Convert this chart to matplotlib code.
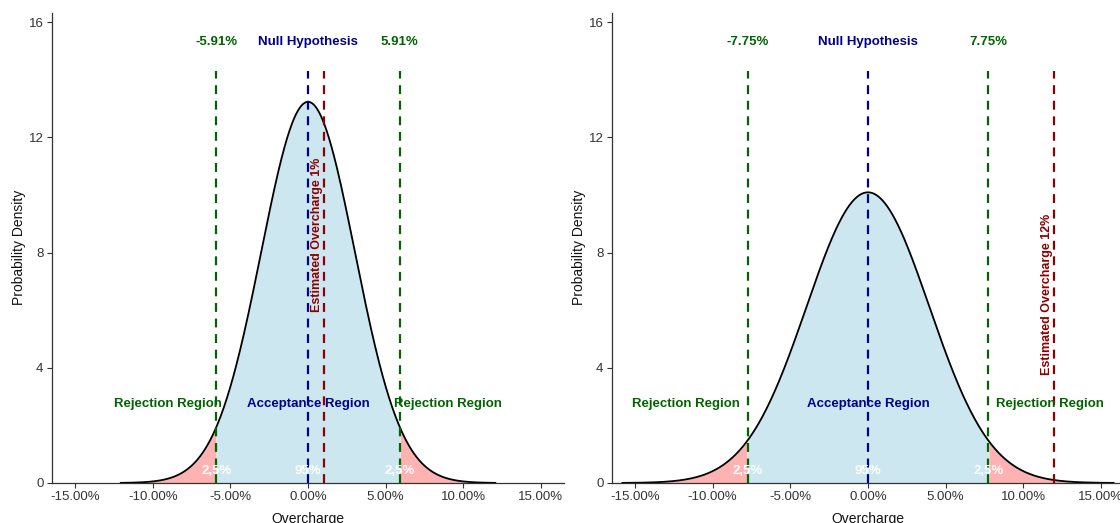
import numpy as np
import matplotlib.pyplot as plt
from matplotlib.ticker import FuncFormatter

plt.rcParams['font.family'] = ['Liberation Sans', 'DejaVu Sans']

# one panel per test: critical value (95% two-sided) and estimated overcharge
null_mean = 0.0
crit_values = [0.0591, 0.0775]
estimates = [0.01, 0.12]
crit_labels = [["-5.91%", "5.91%"], ["-7.75%", "7.75%"]]
est_labels = ["Estimated Overcharge 1%", "Estimated Overcharge 12%"]
reject_label_x = [0.090, 0.117]
tail_share = "2,5%"
mid_share = "95%"

x_ticks = [-0.15, -0.10, -0.05, 0.0, 0.05, 0.10, 0.15]
y_ticks = [0, 4, 8, 12, 16]

GREEN = "#006400"
BLUE = "#00008B"
RED = "#8B0000"


def normal_pdf(x, mu, sd):
    return np.exp(-0.5 * ((x - mu) / sd) ** 2) / (sd * np.sqrt(2 * np.pi))


fig = plt.figure(figsize=(11.2, 5.23), dpi=100)
positions = [[0.0463, 0.0765, 0.4575, 0.8995], [0.5462, 0.0765, 0.4575, 0.8995]]

for i, crit in enumerate(crit_values):
    ax = fig.add_axes(positions[i])
    sd = crit / 1.96
    x = np.linspace(null_mean - 4 * sd, null_mean + 4 * sd, 600)
    y = normal_pdf(x, null_mean, sd)
    peak = normal_pdf(null_mean, null_mean, sd)

    # regions
    mid = (x >= -crit) & (x <= crit)
    ax.fill_between(x, 0, y, where=mid, color="#ADD8E6", alpha=0.6, lw=0, interpolate=True)
    ax.fill_between(x, 0, y, where=x <= -crit, color="red", alpha=0.3, lw=0, interpolate=True)
    ax.fill_between(x, 0, y, where=x >= crit, color="red", alpha=0.3, lw=0, interpolate=True)
    ax.plot(x, y, color="black", lw=1.3)

    # vertical lines
    top = 14.3
    dash = (0, (4, 3))
    for c in (-crit, crit):
        ax.plot([c, c], [0, top], color=GREEN, lw=1.6, ls=dash)
    ax.plot([null_mean, null_mean], [0, top], color=BLUE, lw=1.6, ls=dash)
    ax.plot([estimates[i], estimates[i]], [0, top], color=RED, lw=1.6, ls=dash)

    # labels on top
    ax.text(-crit, 15.3, crit_labels[i][0], color=GREEN, fontsize=9.5, fontweight="bold", ha="center", va="center")
    ax.text(crit, 15.3, crit_labels[i][1], color=GREEN, fontsize=9.5, fontweight="bold", ha="center", va="center")
    ax.text(null_mean, 15.3, "Null Hypothesis", color=BLUE, fontsize=9.5, fontweight="bold", ha="center", va="center")

    # region labels
    ax.text(-reject_label_x[i], 2.75, "Rejection Region", color=GREEN, fontsize=9.5, fontweight="bold", ha="center", va="center")
    ax.text(reject_label_x[i], 2.75, "Rejection Region", color=GREEN, fontsize=9.5, fontweight="bold", ha="center", va="center")
    ax.text(null_mean, 2.75, "Acceptance Region", color=BLUE, fontsize=9.5, fontweight="bold", ha="center", va="center")

    # shares
    ax.text(-crit, 0.42, tail_share, color="white", fontsize=9.5, fontweight="bold", ha="center", va="center")
    ax.text(crit, 0.42, tail_share, color="white", fontsize=9.5, fontweight="bold", ha="center", va="center")
    ax.text(null_mean, 0.42, mid_share, color="white", fontsize=9.5, fontweight="bold", ha="center", va="center")

    # estimate label
    ax.text(estimates[i] - 0.0045, peak * 0.65, est_labels[i], color=RED, fontsize=9, fontweight="bold",
            rotation=90, ha="center", va="center")

    ax.set_xlim(-0.165, 0.165)
    ax.set_ylim(0, 16.33)
    ax.set_xticks(x_ticks)
    ax.set_yticks(y_ticks)
    ax.xaxis.set_major_formatter(FuncFormatter(lambda v, p: f"{v * 100:.2f}%"))
    ax.tick_params(labelsize=9.5, colors="#333333", length=3.5, width=0.8, pad=2.5)
    for s in ("top", "right"):
        ax.spines[s].set_visible(False)
    for s in ("left", "bottom"):
        ax.spines[s].set_linewidth(0.9)
        ax.spines[s].set_color("#333333")
    ax.set_xlabel("Overcharge", fontsize=10, color="#111111", labelpad=6)
    ax.set_ylabel("Probability Density", fontsize=10, color="#111111", labelpad=2)

plt.savefig("out.png", dpi=100)
